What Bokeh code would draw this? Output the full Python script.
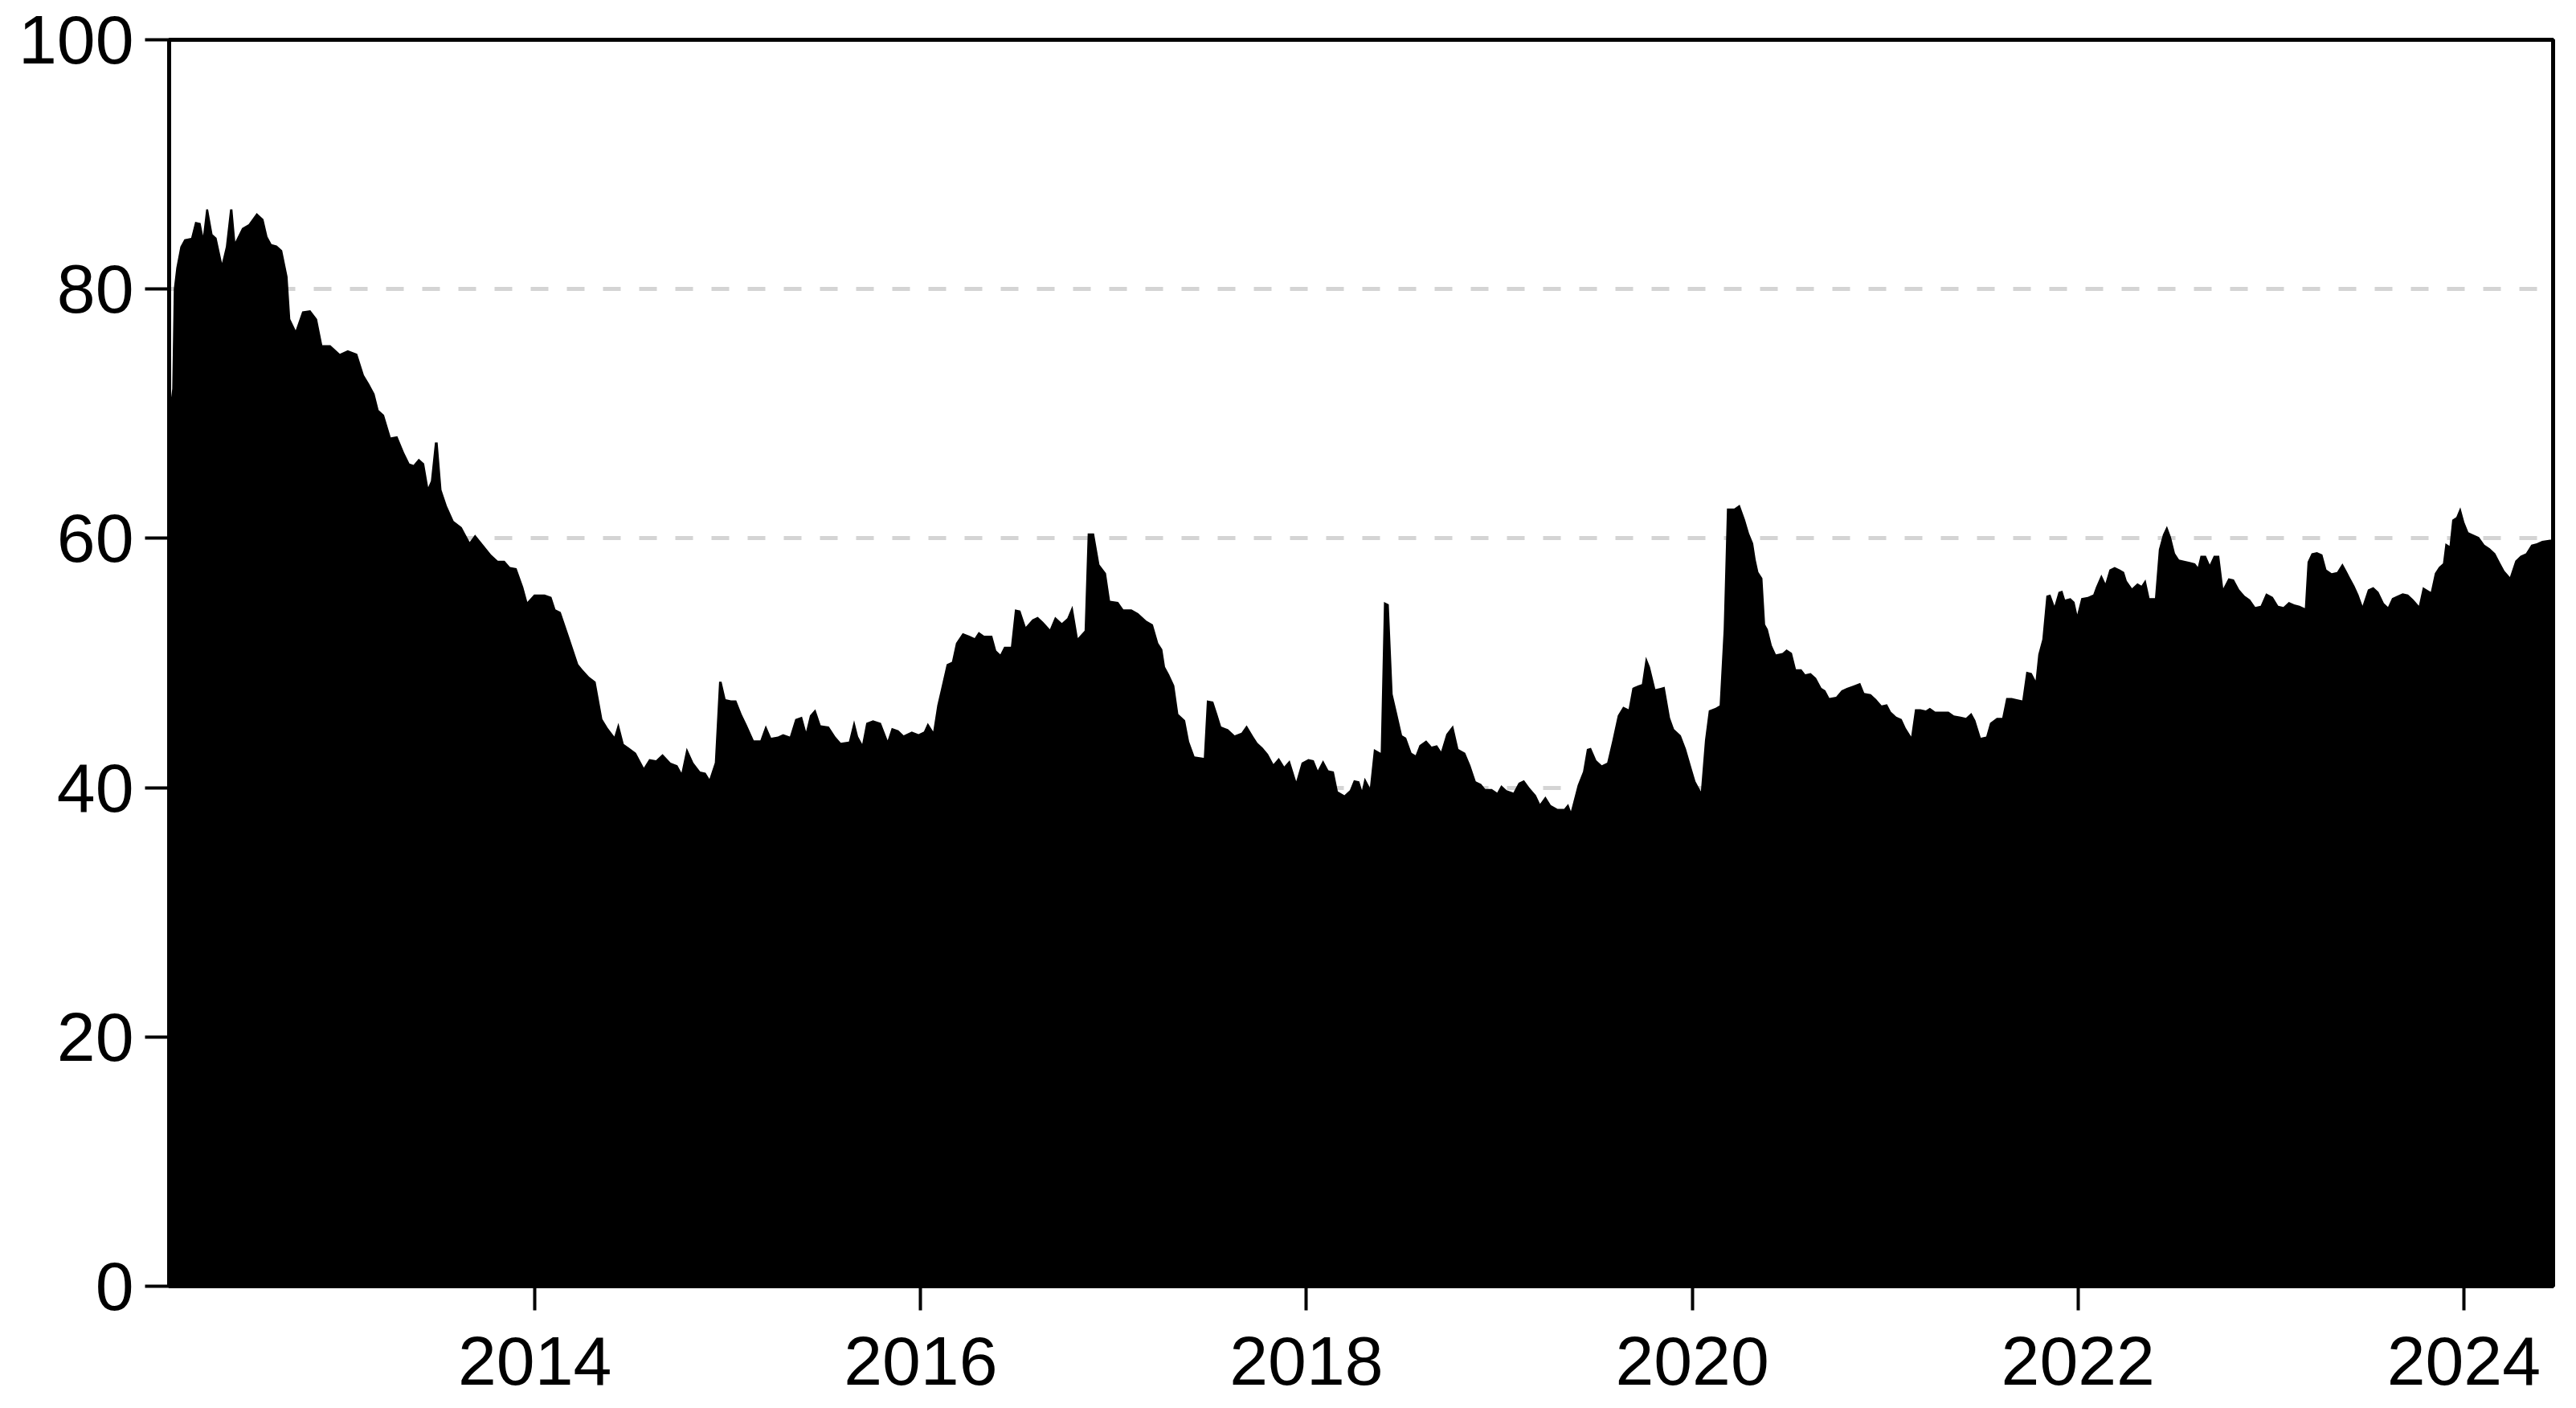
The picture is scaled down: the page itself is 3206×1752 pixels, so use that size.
from bokeh.plotting import figure
from bokeh.models import Range1d, FixedTicker
from bokeh.embed import file_html
from bokeh.resources import INLINE

# Weekly index level (decimal year, value)
dates_2012_2014 = [
    2012.108, 2012.120, 2012.128, 2012.141, 2012.162, 2012.183, 2012.218, 2012.239,
    2012.267, 2012.280, 2012.296, 2012.306, 2012.329, 2012.350, 2012.378, 2012.398,
    2012.420, 2012.432, 2012.447, 2012.482, 2012.516, 2012.558, 2012.593, 2012.614,
    2012.635, 2012.662, 2012.690, 2012.718, 2012.732, 2012.760, 2012.794, 2012.836,
    2012.871, 2012.898, 2012.940, 2012.989, 2013.030, 2013.079, 2013.114, 2013.141,
    2013.169, 2013.190, 2013.218, 2013.253, 2013.287, 2013.322, 2013.350, 2013.371,
    2013.398, 2013.426, 2013.447, 2013.461, 2013.482, 2013.496, 2013.516, 2013.544,
    2013.579, 2013.621, 2013.662, 2013.690, 2013.732, 2013.773, 2013.808, 2013.843,
    2013.871, 2013.905, 2013.940, 2013.961, 2013.996, 2014.051, 2014.086, 2014.107,
    2014.134, 2014.180]
values_2012_2014 = [
    70.5, 72.0, 80.0, 81.7, 83.4, 84.0, 84.1, 85.4,
    85.3, 84.3, 86.4, 86.4, 84.4, 84.1, 82.1, 83.4,
    86.4, 86.4, 83.8, 84.9, 85.2, 86.1, 85.6, 84.2,
    83.6, 83.5, 83.1, 81.0, 77.6, 76.7, 78.2, 78.3,
    77.6, 75.5, 75.5, 74.8, 75.1, 74.8, 73.1, 72.4,
    71.6, 70.3, 69.9, 68.1, 68.2, 66.9, 66.0, 65.9,
    66.4, 66.0, 64.1, 64.6, 67.7, 67.7, 63.9, 62.6,
    61.4, 60.9, 59.7, 60.3, 59.5, 58.7, 58.2, 58.2,
    57.7, 57.6, 56.1, 54.9, 55.5, 55.5, 55.3, 54.3,
    54.1, 52.0]

dates_2014_2016 = [
    2014.225, 2014.246, 2014.281, 2014.315, 2014.350, 2014.378, 2014.412, 2014.433,
    2014.461, 2014.489, 2014.524, 2014.565, 2014.593, 2014.628, 2014.662, 2014.704,
    2014.739, 2014.760, 2014.787, 2014.822, 2014.857, 2014.885, 2014.905, 2014.933,
    2014.955, 2014.968, 2014.989, 2015.017, 2015.044, 2015.072, 2015.100, 2015.135,
    2015.169, 2015.197, 2015.225, 2015.260, 2015.287, 2015.322, 2015.350, 2015.385,
    2015.406, 2015.426, 2015.454, 2015.482, 2015.524, 2015.558, 2015.586, 2015.628,
    2015.655, 2015.676, 2015.697, 2015.718, 2015.753, 2015.794, 2015.829, 2015.850,
    2015.885, 2015.912, 2015.954, 2015.989, 2016.017, 2016.037, 2016.065, 2016.086,
    2016.107, 2016.135, 2016.162, 2016.183, 2016.218, 2016.253, 2016.280, 2016.301,
    2016.329, 2016.350]
values_2014_2016 = [
    49.9, 49.5, 48.9, 48.5, 45.5, 44.8, 44.1, 45.2,
    43.5, 43.2, 42.8, 41.6, 42.3, 42.2, 42.7, 42.0,
    41.8, 41.2, 43.2, 42.0, 41.3, 41.2, 40.7, 42.0,
    48.5, 48.5, 47.1, 47.0, 47.0, 45.9, 45.0, 43.8,
    43.8, 45.0, 44.0, 44.1, 44.3, 44.1, 45.5, 45.7,
    44.5, 45.8, 46.3, 45.0, 44.9, 44.1, 43.6, 43.7,
    45.4, 44.1, 43.5, 45.2, 45.4, 45.2, 43.8, 44.8,
    44.6, 44.2, 44.5, 44.3, 44.5, 45.2, 44.5, 46.6,
    48.0, 49.9, 50.1, 51.6, 52.4, 52.2, 52.0, 52.5,
    52.2, 52.2]

dates_2016_2018 = [
    2016.371, 2016.392, 2016.413, 2016.433, 2016.468, 2016.489, 2016.517, 2016.545,
    2016.579, 2016.607, 2016.635, 2016.670, 2016.697, 2016.732, 2016.760, 2016.787,
    2016.815, 2016.850, 2016.866, 2016.899, 2016.927, 2016.961, 2016.982, 2017.024,
    2017.051, 2017.093, 2017.128, 2017.170, 2017.204, 2017.232, 2017.253, 2017.267,
    2017.288, 2017.315, 2017.336, 2017.371, 2017.392, 2017.420, 2017.468, 2017.484,
    2017.517, 2017.538, 2017.558, 2017.593, 2017.628, 2017.663, 2017.690, 2017.725,
    2017.746, 2017.774, 2017.801, 2017.829, 2017.857, 2017.885, 2017.913, 2017.947,
    2017.975, 2018.010, 2018.038, 2018.059, 2018.086, 2018.114, 2018.142, 2018.163,
    2018.197, 2018.225, 2018.246, 2018.274, 2018.288, 2018.302, 2018.329, 2018.350,
    2018.385, 2018.402, 2018.427, 2018.447, 2018.468, 2018.496]
values_2016_2018 = [
    52.2, 51.0, 50.7, 51.3, 51.3, 54.3, 54.2, 52.9,
    53.5, 53.7, 53.3, 52.7, 53.7, 53.2, 53.6, 54.6,
    52.0, 52.6, 60.4, 60.4, 57.9, 57.2, 55.0, 54.9,
    54.3, 54.3, 54.0, 53.4, 53.1, 51.6, 51.1, 49.7,
    49.1, 48.2, 45.9, 45.4, 43.7, 42.5, 42.4, 47.0,
    46.9, 45.9, 44.9, 44.7, 44.2, 44.4, 45.0, 44.1,
    43.6, 43.2, 42.7, 41.9, 42.4, 41.7, 42.2, 40.5,
    42.0, 42.3, 42.2, 41.4, 42.2, 41.4, 41.3, 39.7,
    39.4, 39.8, 40.6, 40.5, 39.8, 40.8, 40.0, 43.1,
    42.8, 54.9, 54.7, 47.5, 46.1, 44.2]

dates_2018_2020 = [
    2018.517, 2018.545, 2018.566, 2018.586, 2018.621, 2018.649, 2018.677, 2018.698,
    2018.725, 2018.760, 2018.788, 2018.823, 2018.850, 2018.878, 2018.906, 2018.927,
    2018.961, 2018.989, 2019.010, 2019.038, 2019.073, 2019.100, 2019.128, 2019.156,
    2019.190, 2019.211, 2019.239, 2019.267, 2019.302, 2019.336, 2019.357, 2019.371,
    2019.406, 2019.434, 2019.454, 2019.475, 2019.503, 2019.531, 2019.559, 2019.586,
    2019.614, 2019.642, 2019.670, 2019.690, 2019.718, 2019.739, 2019.760, 2019.781,
    2019.809, 2019.836, 2019.857, 2019.885, 2019.906, 2019.941, 2019.968, 2019.996,
    2020.017, 2020.045, 2020.066, 2020.086, 2020.121, 2020.142, 2020.163, 2020.180,
    2020.218, 2020.246, 2020.274, 2020.295, 2020.316, 2020.329, 2020.343, 2020.364,
    2020.378, 2020.392, 2020.413, 2020.434, 2020.468, 2020.489, 2020.517, 2020.538,
    2020.566, 2020.586, 2020.614, 2020.642]
values_2018_2020 = [
    44.0, 42.8, 42.6, 43.4, 43.8, 43.3, 43.4, 42.9,
    44.3, 45.0, 43.1, 42.8, 41.8, 40.5, 40.3, 39.9,
    39.9, 39.6, 40.2, 39.8, 39.6, 40.4, 40.6, 40.0,
    39.4, 38.7, 39.3, 38.6, 38.3, 38.3, 38.7, 38.1,
    40.2, 41.3, 43.1, 43.2, 42.2, 41.8, 42.0, 43.8,
    45.8, 46.5, 46.3, 48.0, 48.2, 48.3, 50.5, 49.7,
    47.9, 48.0, 48.1, 45.6, 44.7, 44.2, 43.1, 41.6,
    40.5, 39.7, 43.8, 46.2, 46.4, 46.6, 52.7, 62.4,
    62.4, 62.7, 61.5, 60.4, 59.6, 58.3, 57.3, 56.8,
    53.1, 52.7, 51.4, 50.7, 50.8, 51.1, 50.8, 49.5,
    49.5, 49.1, 49.2, 48.8]

dates_2020_2022 = [
    2020.670, 2020.690, 2020.711, 2020.746, 2020.774, 2020.801, 2020.836, 2020.871,
    2020.892, 2020.926, 2020.954, 2020.982, 2021.010, 2021.030, 2021.058, 2021.086,
    2021.107, 2021.135, 2021.155, 2021.183, 2021.211, 2021.232, 2021.260, 2021.294,
    2021.329, 2021.357, 2021.392, 2021.419, 2021.447, 2021.468, 2021.496, 2021.524,
    2021.544, 2021.579, 2021.607, 2021.628, 2021.656, 2021.683, 2021.711, 2021.732,
    2021.760, 2021.780, 2021.794, 2021.815, 2021.836, 2021.857, 2021.878, 2021.899,
    2021.919, 2021.933, 2021.961, 2021.982, 2021.996, 2022.017, 2022.051, 2022.079,
    2022.093, 2022.121, 2022.142, 2022.163, 2022.190, 2022.218, 2022.239, 2022.253,
    2022.280, 2022.308, 2022.329, 2022.350, 2022.371, 2022.399, 2022.419, 2022.440,
    2022.461, 2022.482, 2022.503, 2022.524, 2022.551, 2022.579, 2022.607, 2022.621,
    2022.635, 2022.663, 2022.683, 2022.704, 2022.732, 2022.753, 2022.780]
values_2020_2022 = [
    48.0, 47.8, 47.2, 47.3, 47.8, 48.0, 48.2, 48.4,
    47.6, 47.5, 47.1, 46.6, 46.7, 46.1, 45.7, 45.5,
    44.8, 44.1, 46.3, 46.3, 46.2, 46.4, 46.1, 46.1,
    46.1, 45.8, 45.7, 45.6, 46.0, 45.4, 44.0, 44.1,
    45.2, 45.6, 45.6, 47.2, 47.2, 47.1, 47.0, 49.3,
    49.2, 48.6, 50.7, 51.9, 55.4, 55.5, 54.6, 55.7,
    55.8, 55.1, 55.2, 54.9, 53.9, 55.2, 55.3, 55.5,
    56.1, 57.1, 56.4, 57.5, 57.7, 57.5, 57.3, 56.6,
    56.0, 56.4, 56.2, 56.7, 55.2, 55.2, 59.1, 60.3,
    61.0, 60.1, 58.8, 58.3, 58.2, 58.1, 58.0, 57.7,
    58.6, 58.6, 57.9, 58.6, 58.6, 56.0, 56.8]

dates_2022_2024 = [
    2022.808, 2022.836, 2022.864, 2022.892, 2022.919, 2022.947, 2022.975, 2023.010,
    2023.038, 2023.065, 2023.093, 2023.121, 2023.149, 2023.176, 2023.190, 2023.211,
    2023.239, 2023.267, 2023.288, 2023.315, 2023.343, 2023.371, 2023.392, 2023.412,
    2023.433, 2023.454, 2023.475, 2023.503, 2023.531, 2023.558, 2023.586, 2023.607,
    2023.628, 2023.655, 2023.683, 2023.711, 2023.739, 2023.767, 2023.788, 2023.808,
    2023.829, 2023.850, 2023.871, 2023.892, 2023.905, 2023.926, 2023.940, 2023.961,
    2023.982, 2024.003, 2024.024, 2024.051, 2024.079, 2024.107, 2024.135, 2024.163,
    2024.190, 2024.211, 2024.239, 2024.267, 2024.294, 2024.322, 2024.350, 2024.378,
    2024.406, 2024.447, 2024.460]
values_2022_2024 = [
    56.7, 55.9, 55.4, 55.1, 54.5, 54.6, 55.6, 55.3,
    54.6, 54.5, 54.9, 54.7, 54.6, 54.4, 58.1, 58.8,
    58.9, 58.7, 57.5, 57.2, 57.3, 58.0, 57.4, 56.8,
    56.2, 55.5, 54.6, 55.9, 56.1, 55.7, 54.8, 54.5,
    55.2, 55.4, 55.6, 55.5, 55.1, 54.6, 56.1, 55.9,
    55.7, 57.2, 57.7, 58.0, 59.6, 59.4, 61.5, 61.7,
    62.5, 61.3, 60.5, 60.3, 60.1, 59.5, 59.2, 58.8,
    58.0, 57.4, 56.9, 58.2, 58.6, 58.8, 59.5, 59.6,
    59.8, 59.9, 59.9]

year_ticks = [2014, 2016, 2018, 2020, 2022, 2024]
value_ticks = [0, 20, 40, 60, 80, 100]

dates = (dates_2012_2014 + dates_2014_2016 + dates_2016_2018 +
         dates_2018_2020 + dates_2020_2022 + dates_2022_2024)
values = (values_2012_2014 + values_2014_2016 + values_2016_2018 +
          values_2018_2020 + values_2020_2022 + values_2022_2024)

p = figure(
    width=3200, height=1752,
    x_range=Range1d(2012.104, 2024.463), y_range=Range1d(0, 100),
    output_backend="svg", toolbar_location=None,
    min_border_left=210, min_border_right=23, min_border_top=49, min_border_bottom=152,
)
p.background_fill_color = "white"
p.border_fill_color = "white"
p.outline_line_color = "black"
p.outline_line_width = 5

p.varea(x=dates, y1=0, y2=values, fill_color="black", fill_alpha=1.0)

FONT = "Liberation Sans"
for ax in (p.xaxis[0], p.yaxis[0]):
    ax.axis_line_color = "black"
    ax.axis_line_width = 5
    ax.major_tick_line_color = "black"
    ax.major_tick_line_width = 4
    ax.major_tick_out = 30
    ax.major_tick_in = 0
    ax.minor_tick_line_color = None
    ax.major_label_text_font = FONT
    ax.major_label_text_font_size = "86px"
    ax.major_label_text_color = "black"

p.xaxis.ticker = FixedTicker(ticks=year_ticks)
p.yaxis.ticker = FixedTicker(ticks=value_ticks)
p.xaxis.major_label_standoff = 33
p.yaxis.major_label_standoff = 14

p.xgrid.grid_line_color = None
p.ygrid.grid_line_color = "#d4d4d4"
p.ygrid.grid_line_width = 5
p.ygrid.grid_line_dash = "22 23"

open("out.html", "w").write(file_html(p, INLINE))
